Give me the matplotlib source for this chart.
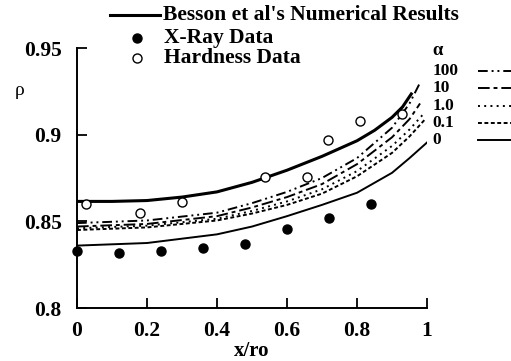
import matplotlib
matplotlib.use("Agg")
import matplotlib.pyplot as plt
from matplotlib.lines import Line2D

# measured points
xray_x = [0.0, 0.12, 0.24, 0.36, 0.48, 0.60, 0.72, 0.84]
xray_y = [0.8328, 0.832, 0.8328, 0.8345, 0.837, 0.8454, 0.852, 0.860]
hard_x = [0.026, 0.18, 0.30, 0.537, 0.657, 0.717, 0.809, 0.929]
hard_y = [0.8598, 0.8546, 0.861, 0.8753, 0.8753, 0.897, 0.908, 0.912]

# Besson et al's numerical result
besson_x = [0.0, 0.1, 0.2, 0.3, 0.4, 0.5, 0.6, 0.7, 0.8, 0.85, 0.9, 0.93, 0.955]
besson_y = [0.8615, 0.8615, 0.862, 0.864, 0.867, 0.8725, 0.8795, 0.8875, 0.8965,
            0.9025, 0.910, 0.916, 0.9235]

# alpha curves
alpha_labels = ["100", "10", "1.0", "0.1", "0"]
a100_x = [0.0, 0.2, 0.4, 0.5, 0.6, 0.7, 0.8, 0.9, 0.95, 0.98]
a100_y = [0.849, 0.8505, 0.855, 0.8605, 0.867, 0.875, 0.8865, 0.904, 0.918, 0.930]
a10_x = [0.0, 0.2, 0.4, 0.5, 0.6, 0.7, 0.8, 0.9, 0.95, 0.98]
a10_y = [0.847, 0.8485, 0.853, 0.858, 0.864, 0.8715, 0.883, 0.8985, 0.909, 0.918]
a1_x = [0.0, 0.2, 0.4, 0.5, 0.6, 0.7, 0.8, 0.9, 0.95, 0.99]
a1_y = [0.846, 0.8475, 0.8515, 0.856, 0.8615, 0.8685, 0.879, 0.8935, 0.903, 0.912]
a01_x = [0.0, 0.2, 0.4, 0.5, 0.6, 0.7, 0.8, 0.9, 0.95, 0.995]
a01_y = [0.845, 0.8465, 0.8505, 0.8545, 0.8595, 0.866, 0.876, 0.8895, 0.899, 0.909]
a0_x = [0.0, 0.2, 0.4, 0.5, 0.6, 0.7, 0.8, 0.9, 0.95, 1.0]
a0_y = [0.836, 0.8375, 0.8425, 0.847, 0.853, 0.8595, 0.8665, 0.878, 0.8865, 0.8955]

styles = [(0, (5, 2, 1, 2, 1, 2)), (0, (6, 2, 2, 2)), (0, (1, 2.2)),
          (0, (2, 1.3)), "-"]

plt.rcParams['font.family'] = ['Liberation Serif', 'DejaVu Serif']
plt.rcParams['font.weight'] = 'bold'

fig = plt.figure(figsize=(5.11, 3.61), dpi=100)
ax = fig.add_axes([0.1507, 0.1468, 0.685, 0.7202])

curves = [(a100_x, a100_y), (a10_x, a10_y), (a1_x, a1_y), (a01_x, a01_y), (a0_x, a0_y)]
for (cx, cy), ls in zip(curves, styles):
    ax.plot(cx, cy, color='black', linestyle=ls, linewidth=1.4)
ax.plot(besson_x, besson_y, color='black', linewidth=2.2)
ax.plot(xray_x, xray_y, 'o', color='black', markersize=6.5, clip_on=False)
ax.plot(hard_x, hard_y, 'o', markerfacecolor='white', markeredgecolor='black',
        markersize=6.5, markeredgewidth=1.0, clip_on=False)

ax.set_xlim(0, 1)
ax.set_ylim(0.8, 0.95)
ax.set_xticks([0, 0.2, 0.4, 0.6, 0.8, 1])
ax.set_xticklabels(['0', '0.2', '0.4', '0.6', '0.8', '1'])
ax.set_yticks([0.8, 0.85, 0.9, 0.95])
ax.set_yticklabels(['0.8', '0.85', '0.9', '0.95'])
ax.tick_params(direction='in', length=7, width=1.3, labelsize=15.5)
ax.tick_params(axis='x', pad=9)
ax.tick_params(axis='y', pad=11)
for s in ['top', 'right']:
    ax.spines[s].set_visible(False)
for s in ['left', 'bottom']:
    ax.spines[s].set_linewidth(1.4)

ax.set_xlabel('x/ro', fontsize=15, fontweight='bold', labelpad=0)
fig.text(0.028, 0.75, 'ρ', fontsize=14, fontweight='normal', ha='left', va='center')

# top legend
fig.add_artist(Line2D([0.215, 0.313], [0.958, 0.958], color='black', linewidth=2.2,
                      transform=fig.transFigure))
fig.text(0.319, 0.958, "Besson et al's Numerical Results", fontsize=15.5,
         fontweight='bold', va='center')
fig.add_artist(Line2D([0.268], [0.895], marker='o', color='black', markersize=6.5,
                      transform=fig.transFigure))
fig.text(0.321, 0.895, "X-Ray Data", fontsize=15.5, fontweight='bold', va='center')
fig.add_artist(Line2D([0.268], [0.839], marker='o', markerfacecolor='white',
                      markeredgecolor='black', markersize=6.5,
                      transform=fig.transFigure))
fig.text(0.321, 0.839, "Hardness Data", fontsize=15.5, fontweight='bold', va='center')

# alpha legend
fig.text(0.847, 0.861, 'α', fontsize=13.5, fontweight='bold', va='center')
alpha_ys = [0.803, 0.755, 0.706, 0.659, 0.612]
for lab, ls, yy in zip(alpha_labels, styles, alpha_ys):
    fig.text(0.847, yy, lab, fontsize=12.5, fontweight='bold', va='center')
    fig.add_artist(Line2D([0.935, 1.0], [yy, yy], color='black', linestyle=ls,
                          linewidth=1.4, transform=fig.transFigure))

fig.savefig('out.png', dpi=100)
